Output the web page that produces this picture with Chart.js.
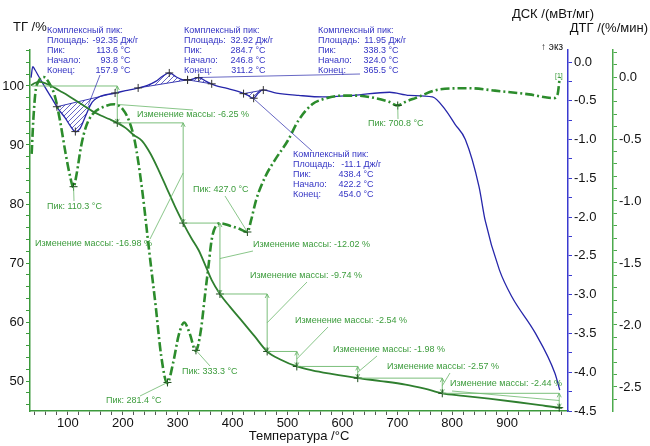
<!DOCTYPE html>
<html>
<head>
<meta charset="utf-8">
<script src="https://cdn.jsdelivr.net/npm/chart.js@4.4.1/dist/chart.umd.min.js"></script>
<style>
  html, body { margin: 0; padding: 0; background: #fff; }
</style>
</head>
<body>
<canvas id="thermoChart" width="650" height="446"></canvas>
<script>
// TG (mass, %)
const tgT = [33, 40, 48, 58, 70, 85, 100, 115, 130, 145, 160, 175, 190, 205, 220, 235, 250, 265, 280, 295, 310, 325, 338, 350, 362, 377, 395, 415, 440, 463, 488, 517, 545, 580, 628, 670, 715, 750, 782, 820, 867, 920, 960, 995, 1000];
const tgV = [100.1, 100.5, 100.7, 100.5, 100.0, 99.2, 98.4, 97.5, 96.6, 95.7, 95.0, 94.4, 93.75, 92.9, 91.7, 90.7, 88.6, 85.8, 82.7, 79.6, 76.77, 74.2, 72.2, 69.7, 67.1, 64.75, 62.6, 60.4, 57.6, 55.01, 53.6, 52.47, 51.8, 51.2, 50.49, 50.0, 49.4, 48.7, 47.92, 47.5, 47.0, 46.4, 45.9, 45.48, 45.45];

// DTG (%/min)
const dtgT = [34, 37, 41, 47, 56, 66, 76, 86, 96, 104, 110, 116, 124, 133, 145, 160, 185, 200, 212, 222, 235, 248, 260, 270, 281, 292, 302, 312, 322, 333, 342, 350, 356, 362, 370, 379, 395, 410, 427, 434, 443, 460, 477, 501, 520, 545, 564, 600, 624, 660, 685, 701, 715, 733, 777, 831, 878, 940, 985, 992, 996];
const dtgV = [-0.62, -0.35, -0.12, -0.03, 0.0, -0.05, -0.15, -0.36, -0.62, -0.8, -0.89, -0.78, -0.56, -0.4, -0.3, -0.25, -0.22, -0.26, -0.36, -0.52, -0.9, -1.4, -1.85, -2.25, -2.47, -2.3, -2.08, -1.98, -2.07, -2.21, -2.05, -1.75, -1.53, -1.31, -1.2, -1.18, -1.2, -1.22, -1.25, -1.15, -0.99, -0.8, -0.67, -0.51, -0.35, -0.22, -0.18, -0.15, -0.15, -0.17, -0.2, -0.23, -0.2, -0.17, -0.10, -0.09, -0.11, -0.14, -0.17, -0.14, 0.0];

// DSC (mW/mg)
const dscT = [33, 36, 40, 48, 58, 70, 82, 95, 105, 114, 122, 132, 144, 160, 186, 205, 225, 245, 260, 273, 285, 297, 311, 322, 338, 352, 368, 390, 410, 428, 438, 447, 455, 480, 520, 564, 620, 686, 722, 764, 788, 805, 824, 849, 860, 886, 909, 951, 987, 996];
const dscV = [-0.2, -0.06, -0.1, -0.2, -0.32, -0.46, -0.6, -0.72, -0.83, -0.9, -0.86, -0.7, -0.52, -0.44, -0.40, -0.37, -0.34, -0.30, -0.25, -0.18, -0.14, -0.19, -0.23, -0.23, -0.20, -0.25, -0.30, -0.34, -0.38, -0.43, -0.47, -0.40, -0.36, -0.40, -0.43, -0.45, -0.43, -0.39, -0.43, -0.45, -0.62, -0.8, -1.0, -1.61, -2.04, -2.68, -3.03, -3.49, -4.01, -4.23];

// mass change steps
const massT = [35, 190, 310, 377, 463, 517, 628, 782, 995];
const massStep = [-6.25, -16.98, -12.02, -9.74, -2.54, -1.98, -2.57, -2.44];

// DTG peaks
const dtgPeakT = [110.3, 281.4, 333.3, 427.0, 700.8];

// DSC complex peaks
const peakArea = ["-92.35", "32.92", "11.95", "-11.1"];
const peakTop = ["113.6", "284.7", "338.3", "438.4"];
const peakOnset = ["93.8", "246.8", "324.0", "422.2"];
const peakEnd = ["157.9", "311.2", "365.5", "454.0"];
const hatchFrom = [80, 228, 318, 420];
const hatchTo = [186, 318, 362, 456];

const cTG = "#2f7f2f", cDTG = "#2c8c2c", cDSC = "#2626aa";
const cTxtG = "#3c9c3c", cTxtB = "#3434c4";
const small = '9px "Liberation Sans", Arial, sans-serif';
const big = '13px "Liberation Sans", Arial, sans-serif';

function lin(xs, ys, t) {
  for (let i = 1; i < xs.length; i++) {
    if (t <= xs[i]) {
      const f = (t - xs[i - 1]) / (xs[i] - xs[i - 1]);
      return ys[i - 1] + f * (ys[i] - ys[i - 1]);
    }
  }
  return ys[ys.length - 1];
}
const pts = (xs, ys) => xs.map((t, i) => ({ x: t, y: ys[i] }));
const range = (a, b, s) => { const r = []; for (let v = a; v <= b + 1e-9; v += s) r.push({ value: Math.round(v * 100) / 100 }); return r; };

function hatchPattern(ctx) {
  const c = document.createElement("canvas");
  c.width = 5; c.height = 5;
  const g = c.getContext("2d");
  g.strokeStyle = cDSC; g.lineWidth = 0.7;
  g.beginPath(); g.moveTo(0, 5); g.lineTo(5, 0); g.stroke();
  return ctx.createPattern(c, "repeat");
}

function cross(ctx, x, y, col) {
  ctx.strokeStyle = col; ctx.lineWidth = 1;
  ctx.beginPath();
  ctx.moveTo(x - 4, y); ctx.lineTo(x + 4, y);
  ctx.moveTo(x, y - 4); ctx.lineTo(x, y + 4);
  ctx.stroke();
}
function line(ctx, x1, y1, x2, y2, col, w) {
  ctx.strokeStyle = col; ctx.lineWidth = w || 0.8;
  ctx.beginPath(); ctx.moveTo(x1, y1); ctx.lineTo(x2, y2); ctx.stroke();
}
function text(ctx, s, x, y, col, font, align) {
  ctx.fillStyle = col; ctx.font = font || small;
  ctx.textAlign = align || "left"; ctx.textBaseline = "middle";
  ctx.fillText(s, x, y);
}

const notes = {
  id: "notes",
  beforeDatasetsDraw(chart) {
    const { ctx, scales: { x, dsc } } = chart;
    const pat = hatchPattern(ctx);
    ctx.save();
    hatchFrom.forEach((a, i) => {
      const b = hatchTo[i];
      const poly = [[a, lin(dscT, dscV, a)]];
      dscT.forEach((t, j) => { if (t > a && t < b) poly.push([t, dscV[j]]); });
      poly.push([b, lin(dscT, dscV, b)]);
      ctx.beginPath();
      poly.forEach(([t, v], k) => {
        const px = x.getPixelForValue(t), py = dsc.getPixelForValue(v);
        k ? ctx.lineTo(px, py) : ctx.moveTo(px, py);
      });
      ctx.closePath();
      ctx.fillStyle = pat; ctx.fill();
      const ax = x.getPixelForValue(a), ay = dsc.getPixelForValue(poly[0][1]);
      const bx = x.getPixelForValue(b), by = dsc.getPixelForValue(poly[poly.length - 1][1]);
      line(ctx, ax, ay, bx, by, cDSC, 0.9);
    });
    ctx.restore();
  },
  afterDatasetsDraw(chart) {
    const { ctx, scales: { x, tg, dsc, dtg } } = chart;
    ctx.save();

    // mass change steps on TG
    const labX = [137, 35, 253, 250, 295, 333, 387, 450];
    const labY = [115, 244, 245, 276, 321, 350, 367, 384];
    const leadTo = [[193, 110], [150, 239], [253, 251], [307, 282], [328, 327], [377, 356], [450, 373], [452, 391]];
    let level = 100;
    massStep.forEach((d, i) => {
      const x0 = x.getPixelForValue(massT[i]), x1 = x.getPixelForValue(massT[i + 1]);
      const next = level + d;
      const y0 = tg.getPixelForValue(level), y1 = tg.getPixelForValue(next);
      line(ctx, x0, y0, x1, y0, "#6cb86c", 0.9);
      line(ctx, x1, y0, x1, y1, "#6cb86c", 0.9);
      // arrow heads
      ctx.beginPath();
      ctx.moveTo(x1 - 2, y0 + 4); ctx.lineTo(x1, y0); ctx.lineTo(x1 + 2, y0 + 4);
      ctx.moveTo(x1 - 2, y1 - 4); ctx.lineTo(x1, y1); ctx.lineTo(x1 + 2, y1 - 4);
      ctx.stroke();
      cross(ctx, x1, y1, "#1d4d1d");
      line(ctx, x1, (y0 + y1) / 2, leadTo[i][0], leadTo[i][1], "#6cb86c", 0.8);
      text(ctx, "Изменение массы: " + d.toFixed(2) + " %", labX[i], labY[i], cTxtG);
      level = next;
    });

    // DTG peaks
    const pkLab = [[47, 207], [106, 401], [182, 372], [193, 190], [368, 124]];
    const pkLead = [[74, 201], [140, 396], [210, 366], [225, 196], [398, 119]];
    dtgPeakT.forEach((t, i) => {
      const px = x.getPixelForValue(t), py = dtg.getPixelForValue(lin(dtgT, dtgV, t));
      cross(ctx, px, py, "#1d4d1d");
      line(ctx, px, py, pkLead[i][0], pkLead[i][1], "#6cb86c", 0.8);
      text(ctx, "Пик: " + t.toFixed(1) + " °C", pkLab[i][0], pkLab[i][1], cTxtG);
    });

    // DSC peak marks
    hatchFrom.forEach((a, i) => {
      [a, hatchTo[i], parseFloat(peakTop[i])].forEach(t => {
        cross(ctx, x.getPixelForValue(t), dsc.getPixelForValue(lin(dscT, dscV, t)), "#333");
      });
    });

    // DSC blocks
    const blk = [[47, 118, 31], [184, 253, 31], [318, 386, 31], [293, 361, 155]];
    const leadFrom = [[100, 75], [0, 0], [360, 74], [312, 151]];
    const leadT = [137, null, 338, 438];
    blk.forEach(([lx, nx, y0], i) => {
      text(ctx, "Комплексный пик:", lx, y0, cTxtB);
      const rows = [["Площадь:", peakArea[i], " Дж/г"], ["Пик:", peakTop[i], " °C"], ["Начало:", peakOnset[i], " °C"], ["Конец:", peakEnd[i], " °C"]];
      rows.forEach((r, k) => {
        const yy = y0 + 10 * (k + 1);
        text(ctx, r[0], lx, yy, cTxtB);
        text(ctx, r[1], nx, yy, cTxtB, small, "right");
        text(ctx, r[2], nx, yy, cTxtB);
      });
      if (leadT[i] !== null) {
        const t = leadT[i];
        const v = i === 0 ? -0.56 : lin(dscT, dscV, t);
        line(ctx, leadFrom[i][0], leadFrom[i][1], x.getPixelForValue(t), dsc.getPixelForValue(v), cDSC, 0.7);
      }
    });

    // axis titles
    text(ctx, "ТГ /%", 13, 27, "#111", big);
    text(ctx, "ДСК /(мВт/мг)", 594, 14, "#111", big, "right");
    text(ctx, "ДТГ /(%/мин)", 648, 28, "#111", big, "right");
    text(ctx, "↑ экз", 563, 47, "#111", '10px "Liberation Sans", Arial, sans-serif', "right");
    text(ctx, "[1]", 555, 76, cTxtG, '7px "Liberation Sans", Arial, sans-serif');
    ctx.restore();
  }
};

const axisFont = { family: '"Liberation Sans", Arial, sans-serif', size: 13 };
function yAxis(pos, col, min, max, tickList, lab, w, weight) {
  return {
    type: "linear", position: pos, min: min, max: max, weight: weight,
    afterBuildTicks: s => { s.ticks = tickList; },
    afterFit: s => { s.width = w; },
    border: { display: true, color: col, width: 1.5 },
    grid: { drawOnChartArea: false, drawTicks: true, tickLength: 4, color: col },
    ticks: { font: axisFont, color: "#111", padding: 2, autoSkip: false, callback: lab }
  };
}
const half = v => Math.abs(Math.round(v * 100) % 50) === 0 ? (Math.abs(v) < 1e-9 ? "0.0" : v.toFixed(1)) : "";

new Chart(document.getElementById("thermoChart"), {
  type: "line",
  data: {
    datasets: [
      { label: "ТГ", data: pts(tgT, tgV), yAxisID: "tg", borderColor: cTG, borderWidth: 1.8, cubicInterpolationMode: "monotone" },
      { label: "ДТГ", data: pts(dtgT, dtgV), yAxisID: "dtg", borderColor: cDTG, borderWidth: 2.6, borderDash: [9, 3, 2, 3], cubicInterpolationMode: "monotone" },
      { label: "ДСК", data: pts(dscT, dscV), yAxisID: "dsc", borderColor: cDSC, borderWidth: 1.3, cubicInterpolationMode: "monotone" }
    ]
  },
  options: {
    responsive: false,
    animation: false,
    devicePixelRatio: 1,
    layout: { padding: { top: 50, left: 0, right: 0, bottom: 0 } },
    elements: { point: { radius: 0 } },
    plugins: { legend: { display: false }, tooltip: { enabled: false } },
    scales: {
      x: {
        type: "linear", min: 31, max: 1011,
        afterBuildTicks: s => { s.ticks = range(40, 1000, 20); },
        afterFit: s => { s.height = 35; },
        border: { display: true, color: "#3c9a3c", width: 1.5 },
        grid: { drawOnChartArea: false, drawTicks: true, tickLength: 4, color: "#555" },
        ticks: { font: axisFont, color: "#111", padding: 1, maxRotation: 0, autoSkip: false,
          callback: v => (v % 100 === 0 && v < 1000) ? String(v) : "" },
        title: { display: true, text: "Температура /°C", font: axisFont, color: "#111", padding: { top: 0, bottom: 2 } }
      },
      tg: yAxis("left", "#3c9a3c", 44.92, 106.1, range(46, 106, 2), v => v % 10 === 0 ? String(v) : "", 30, 0),
      dsc: yAxis("right", "#3a3ad0", -4.5, 0.155, range(-4.5, 0, 0.25), half, 45, 0),
      dtg: yAxis("right", "#4caa4c", -2.694, 0.218, range(-2.6, 0.2, 0.1), half, 37, 1)
    }
  },
  plugins: [notes]
});
</script>
</body>
</html>
